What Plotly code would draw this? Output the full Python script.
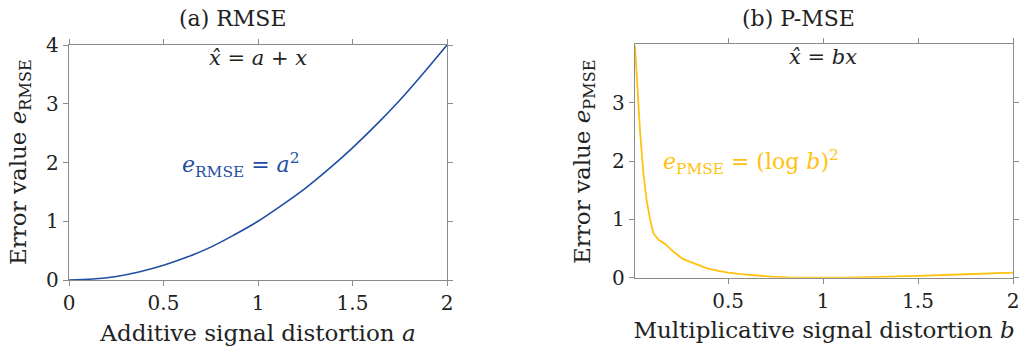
import plotly.graph_objects as go

# ---- data ----
a_vals = [0, 0.125, 0.25, 0.375, 0.5, 0.625, 0.75, 0.875, 1.0, 1.125, 1.25, 1.375, 1.5, 1.625, 1.75, 1.875, 2.0]
e_rmse = [0, 0.016, 0.06, 0.14, 0.25, 0.39, 0.56, 0.77, 1.0, 1.27, 1.56, 1.89, 2.25, 2.64, 3.06, 3.52, 4.0]

b_vals = [0.01, 0.024, 0.036, 0.054, 0.071, 0.09, 0.107, 0.134, 0.169, 0.204, 0.257,
          0.30, 0.35, 0.39, 0.45, 0.5, 0.58, 0.65, 0.73, 0.82, 0.9, 1.0, 1.1, 1.18, 1.3, 1.5, 1.75, 2.0]
e_pmse = [3.98, 3.21, 2.53, 1.79, 1.33, 0.99, 0.76, 0.65, 0.58, 0.47, 0.33,
          0.27, 0.21, 0.16, 0.115, 0.086, 0.056, 0.035, 0.019, 0.007, 0.002, 0.0, 0.002, 0.005, 0.013, 0.031, 0.059, 0.086]

x_ticks_a = [0, 0.5, 1, 1.5, 2]
x_ticks_b = [0.5, 1, 1.5, 2]
y_ticks_a = [0, 1, 2, 3, 4]
y_ticks_b = [0, 1, 2, 3]

BLUE = "#1f4ea3"
YELLOW = "#ffc20e"
AX = "#8c8c8c"
FONT = "DejaVu Serif"
TXT = "#222222"

fig = go.Figure()
fig.add_trace(go.Scatter(x=a_vals, y=e_rmse, mode="lines", line=dict(color=BLUE, width=1.6, shape="spline"),
                         xaxis="x", yaxis="y", showlegend=False))
fig.add_trace(go.Scatter(x=b_vals, y=e_pmse, mode="lines", line=dict(color=YELLOW, width=1.8),
                         xaxis="x2", yaxis="y2", showlegend=False))

axcommon = dict(showline=True, linecolor=AX, linewidth=1.3, mirror="allticks", ticks="outside",
                ticklen=5, tickcolor=AX, tickwidth=1.3, showgrid=False, zeroline=False,
                automargin=False, tickfont=dict(family=FONT, size=20, color=TXT))

W, H = 1025, 351
def px_x(p):
    return p / W
def px_y(p):
    return 1 - p / H

TF = dict(family=FONT, size=23, color=TXT)

fig.update_layout(
    width=W, height=H, margin=dict(l=0, r=0, t=0, b=0, autoexpand=False),
    plot_bgcolor="white", paper_bgcolor="white",
    font=dict(family=FONT, color=TXT),
    xaxis=dict(domain=[px_x(69), px_x(447)], range=[0, 2], tickvals=x_ticks_a,
               ticktext=["0", "0.5", "1", "1.5", "2"], anchor="y",
               title=dict(text="Additive signal distortion <i>a</i>", font=TF, standoff=10),
               **axcommon),
    yaxis=dict(domain=[px_y(280), px_y(45)], range=[0, 4], tickvals=y_ticks_a, anchor="x",
               **axcommon),
    xaxis2=dict(domain=[px_x(635), px_x(1013)], range=[0.01, 2], tickvals=x_ticks_b,
                ticktext=["0.5", "1", "1.5", "2"], anchor="y2",
                title=dict(text="Multiplicative signal distortion <i>b</i>", font=TF, standoff=10),
                **axcommon),
    yaxis2=dict(domain=[px_y(277.7), px_y(44.3)], range=[0, 4], tickvals=y_ticks_b, anchor="x2",
                **axcommon),
)

anns = [
    dict(text="(a) RMSE", x=px_x(233), y=px_y(18), xref="paper", yref="paper", showarrow=False,
         xanchor="center", yanchor="middle", font=dict(family=FONT, size=22, color=TXT)),
    dict(text="(b) P-MSE", x=px_x(798), y=px_y(18), xref="paper", yref="paper", showarrow=False,
         xanchor="center", yanchor="middle", font=dict(family=FONT, size=22, color=TXT)),
    dict(text="Error value <i>e</i><sub>RMSE</sub>", x=px_x(20), y=px_y(162), xref="paper", yref="paper",
         showarrow=False, textangle=-90, xanchor="center", yanchor="middle", font=TF),
    dict(text="Error value <i>e</i><sub>PMSE</sub>", x=px_x(584), y=px_y(162), xref="paper", yref="paper",
         showarrow=False, textangle=-90, xanchor="center", yanchor="middle", font=TF),
    dict(text="<i>x̂</i> = <i>a</i> + <i>x</i>", x=1.0, y=3.78, xref="x", yref="y", showarrow=False,
         font=dict(family=FONT, size=21, color=TXT)),
    dict(text="<i>x̂</i> = <i>bx</i>", x=1.0, y=3.78, xref="x2", yref="y2", showarrow=False,
         font=dict(family=FONT, size=21, color=TXT)),
    dict(text="<i>e</i><sub>RMSE</sub> = <i>a</i><sup>2</sup>", x=0.91, y=1.96, xref="x", yref="y", showarrow=False,
         font=dict(family=FONT, size=22, color=BLUE)),
    dict(text="<i>e</i><sub>PMSE</sub> = (log <i>b</i>)<sup>2</sup>", x=0.62, y=1.98, xref="x2", yref="y2", showarrow=False,
         font=dict(family=FONT, size=22, color=YELLOW)),
]
fig.update_layout(annotations=anns)

fig.write_html("out.html", config={"displayModeBar": False},
               post_script="document.body.style.margin='0';document.body.style.overflow='hidden';")
